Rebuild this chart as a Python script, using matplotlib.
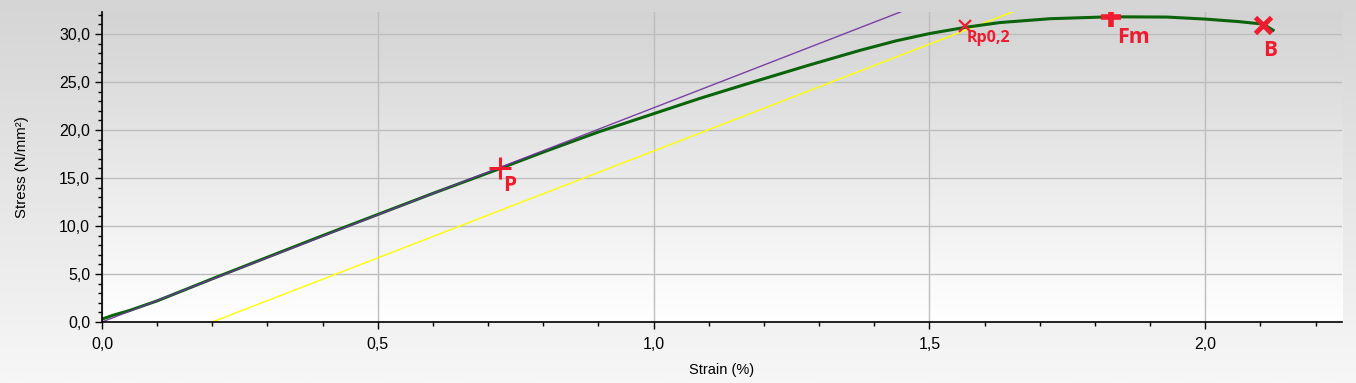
import numpy as np
import matplotlib
matplotlib.use("Agg")
import matplotlib.pyplot as plt
from matplotlib.ticker import MultipleLocator, FuncFormatter

plt.rcParams["font.family"] = ["Liberation Sans", "DejaVu Sans"]

strain = [0.0, 0.02, 0.05, 0.1, 0.2, 0.4, 0.6, 0.722, 0.8, 0.9, 1.0, 1.084, 1.18,
          1.278, 1.374, 1.44, 1.5, 1.565, 1.628, 1.719, 1.828, 1.931, 2.0, 2.06,
          2.105, 2.123]
stress = [0.3, 0.7, 1.2, 2.2, 4.5, 9.0, 13.4, 16.0, 17.7, 19.8, 21.7, 23.3, 25.0,
          26.7, 28.3, 29.3, 30.05, 30.7, 31.2, 31.6, 31.8, 31.77, 31.56, 31.3,
          31.04, 30.4]

# Elastic modulus line and the 0.2 % offset line.
modulus_x = [0.0, 1.452]
modulus_y = [0.0, 32.4]
offset_x = [0.2, 1.655]
offset_y = [0.0, 32.4]

# Characteristic points.
point_names = ["P", "Rp0,2", "Fm", "B"]
point_x = [0.722, 1.565, 1.83, 2.105]
point_y = [16.0, 30.8, 31.8, 30.9]

fig = plt.figure(figsize=(13.56, 3.83), dpi=100)

# Figure background gradient.
bg = fig.add_axes([0, 0, 1, 1], zorder=-10)
grad = np.linspace(0, 1, 256).reshape(-1, 1)
bg.imshow(grad, aspect="auto", cmap=matplotlib.colors.LinearSegmentedColormap.from_list(
    "bg", ["#d5d5d5", "#f7f7f7"]), extent=[0, 1, 0, 1])
bg.axis("off")

ax = fig.add_axes([0.0752, 0.1593, 0.9145, 0.8094])
ax.patch.set_alpha(0)
ax.set_xlim(0, 2.248)
ax.set_ylim(0, 32.3)
ax.imshow(grad, aspect="auto", cmap=matplotlib.colors.LinearSegmentedColormap.from_list(
    "ax", ["#d3d3d3", "#ffffff"]), extent=[0, 2.248, 0, 32.3], zorder=0)

ax.grid(True, which="major", color="#bdbdbd", linewidth=1, zorder=1)

ax.plot(offset_x, offset_y, color="#ffff00", linewidth=1, zorder=2)
ax.plot(strain, stress, color="#0b640b", linewidth=2.2, zorder=3,
        solid_joinstyle="round")
ax.plot(modulus_x, modulus_y, color="#7030a0", linewidth=1, zorder=4, alpha=0.9)

red = "#ee1c2e"
styles = {
    "P": dict(marker="+", ms=16, mew=2.2, dx=0.006, dy=-1.8, size=15),
    "Rp0,2": dict(marker="x", ms=9, mew=1.6, dx=0.003, dy=-1.2, size=11.5),
    "Fm": dict(marker="+", ms=15, mew=4, dx=0.01, dy=-2.2, size=15.5),
    "B": dict(marker="x", ms=11, mew=3.5, dx=0.0, dy=-2.6, size=15),
}
for name, px, py in zip(point_names, point_x, point_y):
    st = styles[name]
    ax.plot(px, py, marker=st["marker"], ms=st["ms"], mew=st["mew"], color=red,
            linestyle="none", zorder=5)
    ax.text(px + st["dx"], py + st["dy"], name, color=red, fontsize=st["size"],
            fontweight="bold", family=["Open Sans", "DejaVu Sans"],
            ha="left", va="center", zorder=6)

ax.xaxis.set_major_locator(MultipleLocator(0.5))
ax.xaxis.set_minor_locator(MultipleLocator(0.1))
ax.yaxis.set_major_locator(MultipleLocator(5))
ax.yaxis.set_minor_locator(MultipleLocator(1))
ax.xaxis.set_major_formatter(FuncFormatter(lambda v, p: f"{v:.1f}".replace(".", ",")))
ax.yaxis.set_major_formatter(FuncFormatter(lambda v, p: f"{v:.1f}".replace(".", ",")))

ax.tick_params(axis="both", which="major", length=5, width=1, labelsize=11.5,
               direction="out", color="black")
ax.tick_params(axis="both", which="minor", length=3, width=1, direction="out")
ax.tick_params(axis="x", pad=6)

for side in ["top", "right"]:
    ax.spines[side].set_visible(False)
for side in ["left", "bottom"]:
    ax.spines[side].set_linewidth(1.2)
    ax.spines[side].set_zorder(7)

ax.set_xlabel("Strain (%)", fontsize=10.5, labelpad=8)
ax.set_ylabel("Stress (N/mm²)", fontsize=10.8, labelpad=22)

fig.savefig("out.png", dpi=100)
